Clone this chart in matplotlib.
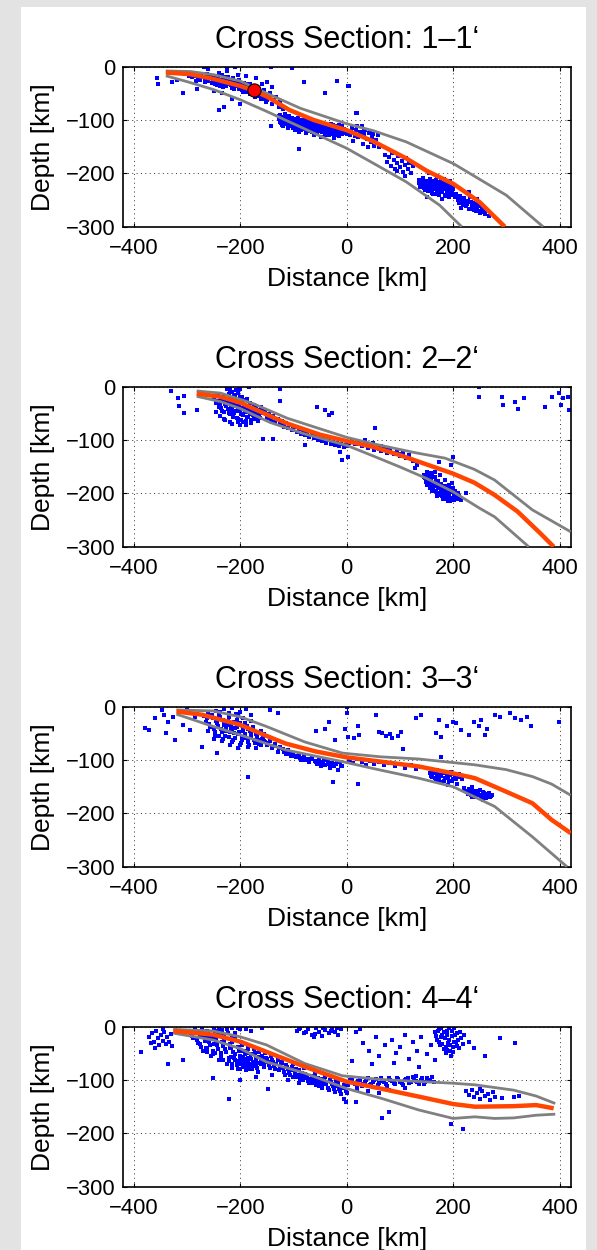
import matplotlib.pyplot as plt
import numpy as np
from matplotlib.patches import Rectangle

plt.rcParams.update({'font.family': ['Liberation Sans', 'DejaVu Sans'],
                     'axes.unicode_minus': True})

titles = ['Cross Section: 1\u20131\u2018', 'Cross Section: 2\u20132\u2018',
          'Cross Section: 3\u20133\u2018', 'Cross Section: 4\u20134\u2018']
xticks = [-400, -200, 0, 200, 400]
yticks = [-300, -200, -100, 0]

# slab surface (orange) and its upper / lower bounds (grey), [distance, depth] in km
slab1 = [(-340, -11), (-294, -14), (-250, -23), (-200, -36), (-175, -45), (-150, -56), (-108, -81),
         (-62, -100), (0, -119), (50, -140), (112, -172), (150, -195), (201, -220), (250, -254), (297, -300)]
top1 = [(-340, -8), (-294, -9), (-250, -15), (-200, -27), (-150, -50), (-87, -78), (0, -107), (50, -120),
        (112, -141), (201, -182), (300, -241), (369, -300)]
bot1 = [(-340, -17), (-300, -28), (-250, -43), (-200, -62), (-150, -84), (-100, -107), (-50, -130),
        (0, -153), (50, -181), (112, -216), (175, -260), (216, -300)]

slab2 = [(-282, -13), (-237, -19), (-200, -30), (-162, -47), (-112, -69), (-50, -90), (0, -102), (50, -113),
         (99, -128), (171, -153), (200, -163), (240, -180), (278, -203), (321, -234), (364, -275), (389, -300)]
top2 = [(-282, -8), (-237, -12), (-175, -32), (-112, -59), (-50, -79), (0, -95), (50, -107), (92, -116),
        (130, -124), (185, -134), (240, -155), (278, -175), (349, -231), (421, -272)]
bot2 = [(-282, -18), (-237, -28), (-200, -41), (-144, -67), (-81, -88), (0, -110), (50, -130), (99, -150),
        (150, -172), (200, -197), (250, -228), (278, -244), (342, -300)]

slab3 = [(-320, -9), (-272, -15), (-200, -34), (-150, -55), (-115, -69), (-58, -84), (0, -95), (64, -103),
         (135, -112), (200, -125), (241, -134), (299, -159), (349, -181), (385, -212), (421, -237)]
top3 = [(-320, -6), (-251, -8), (-200, -19), (-151, -37), (-79, -66), (-8, -87), (64, -94), (135, -98),
        (241, -109), (300, -118), (349, -131), (385, -145), (421, -166)]
bot3 = [(-320, -14), (-251, -37), (-200, -53), (-115, -81), (-8, -103), (64, -119), (135, -134),
        (200, -150), (278, -187), (349, -244), (414, -300)]

slab4 = [(-326, -8), (-251, -15), (-200, -28), (-151, -47), (-79, -75), (0, -103), (64, -116), (135, -131),
         (200, -145), (241, -150), (314, -149), (356, -147), (389, -153)]
top4 = [(-326, -5), (-251, -8), (-200, -19), (-151, -34), (-79, -69), (-8, -92), (64, -99), (200, -106),
        (241, -109), (314, -119), (356, -130), (392, -144)]
bot4 = [(-326, -12), (-251, -25), (-200, -41), (-151, -66), (-79, -87), (0, -116), (64, -134), (135, -156),
        (200, -172), (241, -169), (278, -172), (314, -171), (356, -166), (392, -164)]

# main event (red circle) in section 1
main_event = (-175, -44)

# earthquake hypocentres [distance, depth] in km
eq1 = [(-357, -22), (-355, -33), (-328, -29), (-319, -24), (-307, -50), (-284, -26), (-281, -42), (-269, -1),
       (-225, -1), (-209, -1), (-142, -1), (-103, -3), (-80, -28), (-41, -49), (-19, -26), (3, -36), (19, -86),
       (-89, -155), (-240, -81), (-230, -76), (-142, -111), (5, -36), (17, -86),
       (-298, -14), (-290, -20), (-284, -17), (-276, -24), (-270, -19), (-266, -28), (-262, -14), (-258, -22),
       (-254, -31), (-250, -18), (-247, -26), (-244, -35), (-241, -21), (-238, -29), (-235, -16), (-232, -38),
       (-229, -24), (-226, -31), (-223, -19), (-220, -27), (-217, -35), (-214, -22), (-211, -41), (-208, -29),
       (-205, -33), (-202, -25), (-199, -38), (-196, -44), (-193, -30), (-190, -36), (-187, -48), (-184, -40),
       (-181, -33), (-178, -52), (-175, -45), (-172, -57), (-168, -38), (-165, -49), (-162, -61), (-158, -53),
       (-155, -44), (-151, -66), (-148, -58), (-144, -50), (-140, -70), (-136, -62), (-132, -56), (-128, -75),
       (-125, -66), (-120, -80), (-250, -45), (-235, -50), (-215, -60), (-200, -70), (-260, -5), (-240, -12),
       (-225, -8), (-205, -15), (-190, -18), (-170, -22), (-150, -28), (-140, -38), (-160, -32),
       (-128, -92), (-126, -104), (-124, -98), (-122, -110), (-120, -95), (-118, -103), (-116, -88), (-114, -108),
       (-112, -99), (-110, -115), (-108, -93), (-106, -104), (-104, -112), (-102, -97), (-100, -107), (-98, -118),
       (-96, -101), (-94, -110), (-92, -96), (-90, -122), (-88, -105), (-86, -113), (-84, -99), (-82, -109),
       (-80, -117), (-78, -103), (-76, -124), (-74, -108), (-72, -114), (-70, -101), (-68, -119), (-66, -110),
       (-64, -106), (-62, -128), (-60, -115), (-58, -104), (-56, -121), (-54, -111), (-52, -117), (-50, -108),
       (-48, -131), (-46, -114), (-44, -120), (-42, -109), (-40, -125), (-38, -116), (-36, -112), (-34, -128),
       (-32, -119), (-30, -107), (-28, -123), (-26, -115), (-24, -133), (-22, -120), (-20, -111), (-18, -126),
       (-16, -118), (-14, -130), (-12, -114), (-10, -122), (-8, -127), (-6, -117),
       (2, -120), (6, -128), (10, -115), (14, -124), (18, -118), (22, -131), (25, -122), (28, -112), (32, -127),
       (35, -119), (38, -135), (42, -125), (45, -142), (48, -131), (52, -148), (55, -138), (58, -128), (12, -140),
       (30, -145), (40, -150), (60, -150),
       (72, -165), (76, -178), (80, -170), (84, -186), (88, -174), (90, -192), (94, -180), (97, -168), (100, -188),
       (103, -176), (106, -198), (109, -184), (112, -172), (115, -192), (118, -180), (121, -200), (124, -186),
       (86, -162), (110, -205), (95, -195),
       (135, -212), (140, -220), (143, -208), (146, -228), (149, -215), (152, -234), (154, -222), (157, -210),
       (159, -230), (161, -218), (163, -238), (165, -224), (167, -213), (169, -232), (171, -220), (173, -240),
       (175, -227), (177, -215), (179, -235), (181, -223), (183, -210), (185, -230), (187, -243), (189, -219),
       (191, -236), (193, -226), (195, -214), (197, -240), (199, -230), (201, -221), (155, -200), (170, -205),
       (150, -245), (180, -248), (203, -245),
       (205, -238), (209, -250), (213, -242), (217, -255), (220, -246), (224, -262), (228, -252), (231, -244),
       (234, -266), (237, -256), (240, -262), (243, -270), (247, -258), (250, -275), (254, -265), (258, -272),
       (262, -268), (215, -265), (230, -235), (245, -248), (268, -280)]
eq1_dense = [(-296, -18), (-288, -13), (-280, -21), (-273, -15), (-267, -23), (-260, -27), (-256, -17),
             (-252, -25), (-248, -33), (-245, -20), (-242, -28), (-239, -36), (-236, -24), (-233, -31),
             (-230, -20), (-227, -36), (-224, -27), (-221, -32), (-218, -24), (-215, -39), (-212, -31),
             (-209, -36), (-206, -27), (-203, -42), (-200, -32), (-197, -36), (-194, -47), (-191, -40),
             (-188, -33), (-185, -45), (-182, -52), (-179, -42), (-176, -50), (-173, -46), (-170, -54),
             (-166, -45), (-163, -55), (-160, -48), (-156, -60), (-153, -52), (-149, -62), (-146, -54),
             (-127, -98), (-125, -91), (-123, -106), (-121, -100), (-119, -112), (-117, -96), (-115, -102),
             (-113, -94), (-111, -106), (-109, -100), (-107, -110), (-105, -98), (-103, -104), (-101, -114),
             (-99, -102), (-97, -108), (-95, -98), (-93, -114), (-91, -104), (-89, -110), (-87, -100),
             (-85, -118), (-83, -106), (-81, -112), (-79, -100), (-77, -110), (-75, -116), (-73, -104),
             (-71, -120), (-69, -108), (-67, -114), (-65, -122), (-63, -110), (-61, -118), (-59, -108),
             (-57, -114), (-55, -124), (-53, -112), (-51, -120), (-49, -114), (-47, -122), (-45, -110),
             (-43, -116), (-41, -128), (-39, -112), (-37, -120), (-35, -116), (-33, -124), (-31, -112),
             (-29, -118), (-27, -126), (-25, -110), (-23, -118), (-21, -128), (-19, -114), (-17, -122),
             (-15, -110), (-13, -126), (-11, -118), (-9, -112), (-7, -124), (-4, -120),
             (1, -126), (8, -122), (16, -130), (20, -112), (26, -128), (33, -118), (44, -120), (50, -126),
             (136, -218), (138, -226), (142, -214), (145, -222), (148, -232), (151, -220), (153, -228),
             (156, -216), (158, -224), (160, -236), (162, -226), (164, -214), (166, -230), (168, -220),
             (170, -238), (172, -226), (174, -216), (176, -234), (178, -222), (180, -230), (182, -218),
             (184, -240), (186, -226), (188, -234), (190, -222), (192, -244), (194, -232), (196, -224),
             (198, -236), (200, -228),
             (207, -244), (211, -256), (215, -248), (219, -260), (222, -252), (226, -258), (229, -266),
             (233, -254), (236, -262), (239, -268), (242, -258), (245, -264), (249, -270), (252, -262),
             (256, -268), (260, -276)]

eq2 = [(-330, -9), (-317, -21), (-316, -36), (-306, -18), (-305, -49), (-282, -44), (-219, 0), (-200, -5),
       (-184, 0), (-126, -5), (-126, -27), (-56, -38), (-41, -44), (-34, -54), (-27, -49), (-157, -99),
       (-139, -99), (-78, -109), (-12, -122), (-9, -138), (3, -132),
       (-250, -22), (-246, -30), (-243, -14), (-240, -38), (-237, -25), (-234, -45), (-231, -18), (-228, -33),
       (-225, -28), (-222, -50), (-220, -8), (-218, -40), (-216, -22), (-214, -56), (-212, -32), (-210, -15),
       (-208, -45), (-206, -27), (-204, -60), (-202, -37), (-200, -20), (-198, -52), (-196, -31), (-194, -66),
       (-192, -42), (-190, -25), (-188, -57), (-186, -36), (-184, -48), (-182, -30), (-180, -62), (-178, -42),
       (-176, -54), (-174, -35), (-172, -47), (-170, -40), (-168, -58), (-166, -44), (-164, -52), (-162, -38),
       (-228, -62), (-238, -55), (-215, -70), (-200, -72), (-245, -48), (-225, -5), (-208, -6),
       (-158, -50), (-154, -44), (-150, -58), (-146, -52), (-142, -62), (-138, -55), (-134, -66), (-130, -60),
       (-126, -70), (-122, -64), (-118, -75), (-114, -68), (-110, -78), (-106, -72), (-102, -82), (-98, -76),
       (-94, -85), (-90, -80), (-86, -88), (-82, -83), (-78, -90), (-74, -86), (-70, -94), (-66, -89),
       (-62, -97), (-58, -92), (-54, -100), (-50, -95), (-46, -102), (-42, -98), (-38, -105), (-34, -100),
       (-30, -108), (-26, -103), (-22, -110), (-18, -105), (-14, -112), (-10, -107), (-6, -114), (-2, -110),
       (35, -100), (49, -106), (64, -112), (78, -119), (92, -125), (53, -78), (128, -153), (174, -141),
       (199, -131), (196, -147), (224, -200),
       (4, -105), (10, -100), (16, -108), (22, -103), (28, -112), (34, -106), (40, -115), (46, -109), (52, -118),
       (58, -112), (64, -121), (70, -115), (76, -124), (82, -118), (88, -127), (94, -121), (100, -130),
       (106, -125), (112, -133), (118, -128), (125, -140), (132, -146),
       (145, -165), (148, -172), (150, -160), (152, -178), (154, -168), (156, -185), (158, -174), (160, -163),
       (162, -190), (164, -180), (166, -170), (168, -195), (170, -185), (172, -176), (174, -200), (176, -190),
       (178, -182), (180, -205), (182, -195), (184, -186), (186, -210), (188, -200), (190, -192), (192, -205),
       (194, -214), (196, -198), (198, -208), (200, -190), (202, -213), (205, -202), (208, -210), (212, -205),
       (215, -212), (160, -195), (150, -185), (175, -165), (185, -175), (170, -205), (190, -215), (198, -180),
       (248, 0), (248, -20), (292, -19), (294, -34), (317, -28), (322, -42), (334, -22), (372, -39), (385, -19),
       (399, -11), (403, -34), (406, -22), (416, -20), (417, -44)]
eq2_dense = [(-244, -26), (-241, -18), (-239, -32), (-236, -40), (-233, -22), (-230, -48), (-229, -28),
             (-226, -36), (-223, -42), (-221, -24), (-219, -52), (-217, -30), (-215, -44), (-213, -26),
             (-211, -50), (-209, -36), (-207, -58), (-205, -40), (-203, -30), (-201, -46), (-199, -62),
             (-197, -40), (-195, -54), (-193, -36), (-191, -48), (-189, -64), (-187, -44), (-185, -56),
             (-183, -40), (-181, -52), (-179, -68), (-177, -48), (-175, -60), (-173, -44), (-171, -56),
             (-169, -50), (-167, -64), (-165, -48), (-163, -58), (-161, -46), (-222, -14), (-216, -10),
             (-212, -18), (-205, -12), (-196, -20), (-188, -24), (-230, -60), (-220, -66), (-205, -66),
             (-190, -72),
             (146, -170), (149, -178), (151, -166), (153, -184), (155, -172), (157, -190), (159, -180),
             (161, -170), (163, -196), (165, -186), (167, -176), (169, -200), (171, -190), (173, -182),
             (175, -204), (177, -194), (179, -186), (181, -210), (183, -200), (185, -190), (187, -206),
             (189, -196), (191, -210), (193, -200), (195, -208), (197, -192), (199, -212), (201, -202),
             (203, -196), (206, -208), (210, -200), (213, -208), (158, -162), (166, -160), (180, -195),
             (192, -185),
             (-120, -72), (-100, -80), (-80, -88), (-60, -95), (-40, -101), (-20, -107), (0, -112), (20, -107),
             (40, -110), (60, -117), (80, -122), (100, -127)]

eq3 = [(-379, -39), (-372, -44), (-361, -22), (-347, -6), (-344, -16), (-340, -50), (-336, -28), (-322, -62),
       (-326, -19), (-308, -34), (-294, -44), (-272, -75), (-244, -87), (-186, -132), (-144, -6), (-129, -12),
       (-300, -5), (-285, -20),
       (-268, -18), (-264, -28), (-260, -12), (-256, -38), (-252, -22), (-248, -48), (-244, -30), (-240, -15),
       (-236, -42), (-232, -25), (-228, -55), (-225, -35), (-222, -20), (-219, -48), (-216, -30), (-213, -62),
       (-210, -40), (-207, -25), (-204, -52), (-201, -35), (-198, -68), (-195, -45), (-192, -30), (-189, -58),
       (-186, -42), (-183, -72), (-180, -50), (-177, -38), (-174, -62), (-171, -48), (-168, -55), (-165, -70),
       (-162, -45), (-159, -60), (-156, -52), (-153, -66), (-250, -60), (-235, -65), (-220, -72), (-205, -78),
       (-245, -8), (-230, -5), (-215, -3), (-200, -10), (-190, -4), (-180, -15), (-260, -45), (-240, -55),
       (-226, -45), (-211, -50), (-196, -58), (-185, -62), (-205, -18), (-218, -40), (-230, -35),
       (-150, -72), (-145, -65), (-140, -78), (-135, -70), (-130, -84), (-125, -75), (-120, -80), (-115, -88),
       (-110, -82), (-105, -92), (-100, -86), (-95, -95), (-90, -88), (-85, -100), (-80, -93), (-75, -98),
       (-70, -104), (-65, -96), (-60, -101), (-56, -108), (-52, -100), (-48, -112), (-44, -104), (-40, -110),
       (-36, -102), (-32, -115), (-28, -106), (-24, -112), (-20, -108), (-16, -118), (-12, -104), (-8, -111),
       (-26, -141), (21, -144),
       (5, -100), (12, -106), (20, -98), (28, -104), (36, -110), (44, -102), (52, -107), (60, -103), (70, -110),
       (80, -106), (90, -112), (100, -108), (110, -114), (120, -110), (130, -116), (140, -113), (178, -94),
       (156, -125), (160, -132), (164, -120), (168, -138), (172, -128), (176, -142), (180, -124), (184, -134),
       (188, -128), (192, -140), (196, -122), (200, -135), (204, -130), (208, -144), (212, -126), (216, -136),
       (170, -118), (190, -146),
       (221, -152), (226, -160), (230, -155), (234, -166), (238, -158), (242, -170), (246, -161), (250, -156),
       (254, -168), (258, -162), (262, -172), (266, -164), (270, -170), (274, -166), (236, -150), (256, -175),
       (-58, -46), (-40, -41), (-33, -28), (-22, -62), (-4, -41), (3, -56), (14, -59), (21, -36), (24, -53),
       (1, 0), (1, -12), (56, -16), (60, -47), (67, -50), (74, -55), (81, -51), (85, -59), (96, -55), (102, -47),
       (106, -80), (131, -22), (139, -16), (167, -50), (174, -25), (178, -56), (188, -37), (199, -28), (206, -31),
       (214, -44), (229, -53), (239, -28), (249, -37), (253, -25), (260, -53), (264, -41), (278, -16), (289, -19),
       (306, -12), (317, -22), (328, -25), (338, -19), (346, -37), (399, -28)]
eq3_dense = [(-262, -22), (-258, -32), (-254, -16), (-250, -42), (-246, -26), (-242, -36), (-238, -20),
             (-234, -48), (-230, -30), (-227, -40), (-224, -26), (-221, -56), (-218, -34), (-215, -44),
             (-212, -28), (-209, -58), (-206, -38), (-203, -48), (-200, -30), (-197, -62), (-194, -40),
             (-191, -52), (-188, -36), (-185, -66), (-182, -46), (-179, -56), (-176, -44), (-173, -68),
             (-170, -52), (-167, -62), (-164, -50), (-161, -72), (-158, -56), (-155, -64), (-248, -55),
             (-232, -60), (-216, -66), (-200, -72), (-186, -76), (-170, -78), (-238, -10), (-222, -12),
             (-208, -14), (-195, -22), (-180, -26),
             (-148, -68), (-138, -74), (-128, -78), (-118, -84), (-108, -88), (-98, -92), (-88, -96),
             (-78, -100), (-68, -98), (-58, -104), (-50, -106), (-42, -100), (-34, -108), (-26, -110),
             (-18, -104), (-10, -112),
             (158, -130), (162, -124), (166, -134), (170, -126), (174, -136), (178, -130), (182, -140),
             (186, -124), (190, -134), (194, -128), (198, -140), (202, -126), (206, -136), (210, -132),
             (223, -158), (228, -164), (232, -160), (236, -170), (240, -164), (244, -158), (248, -166),
             (252, -172), (256, -160), (260, -166), (264, -170), (268, -162), (272, -168)]

eq4 = [(-372, -20), (-366, -12), (-362, -28), (-358, -8), (-355, -22), (-352, -35), (-349, -15), (-346, -26),
       (-343, -10), (-340, -32), (-337, -19), (-334, -28), (-331, -14), (-329, -37), (-360, -40), (-386, -47),
       (-336, -69), (-308, -62), (-345, -4), (-368, -31),
       (-294, -10), (-290, -18), (-286, -5), (-282, -25), (-278, -12), (-275, -32), (-272, -2), (-268, -20),
       (-265, -40), (-262, -8), (-258, -28), (-255, -15), (-252, -45), (-249, -3), (-246, -22), (-243, -35),
       (-240, -10), (-237, -50), (-234, -28), (-231, -18), (-228, -42), (-225, -5), (-222, -58), (-219, -32),
       (-216, -22), (-213, -48), (-210, -12), (-207, -64), (-204, -38), (-201, -55), (-198, -28), (-195, -70),
       (-192, -45), (-189, -60), (-186, -35), (-183, -75), (-180, -52), (-177, -66), (-174, -42), (-171, -58),
       (-168, -78), (-165, -48), (-162, -62), (-159, -55), (-156, -70), (-153, -50), (-270, -45), (-255, -55),
       (-240, -62), (-225, -70), (-215, -78), (-200, -80), (-190, -74), (-205, -68), (-185, -65), (-178, -80),
       (-195, -56), (-210, -52), (-220, -40), (-235, -6), (-215, -2), (-200, -4), (-180, -8), (-160, -2),
       (-250, -33), (-260, -18), (-245, -12), (-230, -30), (-188, -50), (-175, -72), (-166, -68), (-199, -45),
       (-182, -58), (-222, -136), (-147, -116), (-251, -97), (-200, -100), (-170, -95),
       (-150, -60), (-146, -72), (-142, -55), (-138, -66), (-134, -80), (-130, -62), (-126, -74), (-122, -68),
       (-118, -85), (-114, -72), (-110, -80), (-106, -90), (-102, -76), (-98, -86), (-94, -95), (-90, -82),
       (-86, -92), (-82, -100), (-78, -88), (-74, -96), (-70, -106), (-66, -92), (-62, -100), (-58, -110),
       (-54, -96), (-50, -104), (-46, -114), (-42, -100), (-38, -108), (-34, -118), (-30, -104), (-26, -112),
       (-22, -122), (-18, -108), (-14, -116), (-10, -126), (-6, -110), (-2, -120), (-120, -60), (-100, -70),
       (-80, -78), (-60, -88), (-40, -95), (-20, -102), (-140, -90), (-110, -100), (-90, -105), (-5, -135),
       (-2, -142), (17, -141),
       (4, -104), (10, -98), (16, -108), (22, -101), (28, -112), (34, -103), (40, -96), (46, -107), (52, -100),
       (58, -110), (64, -97), (70, -104), (76, -112), (82, -99), (88, -106), (94, -96), (100, -103), (106, -110),
       (112, -98), (118, -105), (124, -94), (130, -101), (136, -108), (142, -97), (148, -104), (154, -99),
       (160, -95), (164, -103), (20, -118), (40, -120), (60, -124), (80, -118), (110, -115), (130, -92),
       (66, -172), (80, -159), (196, -182), (219, -192),
       (-94, -8), (-88, -2), (-80, -12), (-72, -5), (-66, -15), (-58, -3), (-52, -10), (-46, -18), (-40, -6),
       (-34, -12), (-28, -2), (-22, -9), (-16, -15), (-10, -4), (17, -10), (25, -5), (-62, -20),
       (30, -30), (42, -45), (55, -20), (60, -55), (72, -35), (85, -25), (92, -50), (100, -38), (110, -15),
       (118, -60), (125, -28), (132, -45), (140, -20), (150, -52), (158, -35), (10, -65), (48, -70), (88, -68),
       (136, -75), (166, -62),
       (166, -10), (170, -25), (173, -5), (176, -35), (179, -15), (182, -42), (185, -22), (188, -8), (191, -30),
       (194, -45), (197, -18), (200, -38), (202, -3), (205, -28), (208, -12), (211, -40), (214, -22), (218, -32),
       (221, -15), (186, -50), (196, -55), (230, -28), (240, -40),
       (224, -120), (230, -128), (235, -118), (240, -132), (245, -124), (250, -136), (255, -121), (260, -130),
       (265, -126), (270, -137), (275, -122), (278, -132), (250, -116),
       (289, -22), (317, -31), (292, -134), (314, -131), (324, -130), (260, -55)]
eq4_dense = [(-292, -14), (-288, -22), (-284, -8), (-280, -30), (-276, -18), (-273, -38), (-270, -10),
             (-266, -26), (-263, -48), (-260, -14), (-257, -34), (-254, -22), (-251, -52), (-248, -8),
             (-245, -30), (-242, -42), (-239, -18), (-236, -56), (-233, -36), (-230, -24), (-227, -48),
             (-224, -12), (-221, -64), (-218, -40), (-215, -28), (-212, -58), (-209, -20), (-206, -72),
             (-203, -46), (-200, -62), (-197, -34), (-194, -76), (-191, -52), (-188, -68), (-185, -42),
             (-182, -80), (-179, -60), (-176, -74), (-173, -50), (-170, -64), (-167, -84), (-164, -56),
             (-161, -70), (-158, -62), (-155, -76), (-152, -58), (-215, -70), (-205, -80), (-195, -64),
             (-185, -58), (-175, -66), (-200, -70), (-210, -62), (-190, -82), (-180, -70), (-170, -74),
             (-262, -40), (-248, -50), (-232, -62), (-218, -56), (-240, -2), (-225, -1), (-205, -2), (-190, -4),
             (-148, -66), (-144, -78), (-140, -62), (-136, -74), (-132, -70), (-128, -82), (-124, -66),
             (-120, -78), (-116, -90), (-112, -76), (-108, -86), (-104, -82), (-100, -94), (-96, -80),
             (-92, -90), (-88, -100), (-84, -86), (-80, -96), (-76, -92), (-72, -102), (-68, -98), (-64, -106),
             (-60, -94), (-56, -104), (-52, -112), (-48, -98), (-44, -108), (-40, -104), (-36, -114),
             (-32, -100), (-28, -108), (-24, -116), (-20, -112), (-16, -106), (-12, -120), (-8, -114),
             (-4, -108), (0, -124),
             (2, -110), (7, -100), (13, -106), (19, -112), (25, -100), (31, -108), (37, -100), (43, -110),
             (49, -104), (55, -98), (61, -106), (67, -102), (73, -108), (79, -96), (85, -102), (91, -108),
             (97, -98), (103, -106), (109, -100), (115, -96), (121, -104), (127, -98), (133, -104), (139, -100),
             (145, -108), (151, -96), (157, -102),
             (168, -18), (171, -8), (174, -28), (177, -20), (180, -32), (183, -10), (186, -38), (189, -16),
             (192, -24), (195, -35), (198, -8), (201, -28), (204, -16), (207, -36), (210, -24), (213, -10),
             (188, -44), (200, -48), (178, -2), (193, -2),
             (-90, -5), (-76, -9), (-60, -14), (-44, -3), (-30, -8), (-18, -3)]

panels = [(eq1 + eq1_dense, slab1, top1, bot1), (eq2 + eq2_dense, slab2, top2, bot2),
          (eq3 + eq3_dense, slab3, top3, bot3), (eq4 + eq4_dense, slab4, top4, bot4)]

W, H = 597, 1250
fig = plt.figure(figsize=(W / 100, H / 100), dpi=100, facecolor='#e3e3e3')
# white figure area inside the grey window frame
fig.patches.append(Rectangle((21 / W, 0), 565 / W, (H - 7) / H, transform=fig.transFigure,
                             facecolor='white', edgecolor='none', zorder=-10))

for i, (eq, slab, top, bot) in enumerate(panels):
    top_px = 66.7 + 320 * i
    ax = fig.add_axes([122.7 / W, 1 - (top_px + 160) / H, 448 / W, 160 / H])

    ex, ez = zip(*eq)
    ax.plot(ex, ez, 's', color='#0000ff', ms=2.3, mew=0, zorder=2)
    for line in (top, bot):
        lx, lz = zip(*line)
        ax.plot(lx, lz, color='#808080', lw=2.0, zorder=3, solid_capstyle='butt')
    sx, sz = zip(*slab)
    ax.plot(sx, sz, color='#ff4500', lw=3.2, zorder=4, solid_capstyle='butt')
    if i == 0:
        ax.plot(*main_event, 'o', ms=9.5, mfc='#ff0000', mec='black', mew=0.8, zorder=5)

    ax.set_xlim(-421, 421)
    ax.set_ylim(-300, 0)
    ax.set_xticks(xticks)
    ax.set_yticks(yticks)
    ax.grid(True, color='#333333', lw=0.7, linestyle=(0, (1, 3.5)))
    ax.tick_params(direction='in', length=3, width=0.8, top=True, right=True,
                   labelsize=15.8, pad=5)
    ax.tick_params(axis='x', pad=8)
    for s in ax.spines.values():
        s.set_linewidth(1.2)

    ax.set_title(titles[i], fontsize=22, pad=13.5)
    ax.set_xlabel('Distance [km]', fontsize=19)
    ax.set_ylabel('Depth [km]', fontsize=19)
    ax.xaxis.set_label_coords(0.5, -0.25)
    ax.yaxis.set_label_coords(-0.151, 0.5)

fig.savefig('out.png', dpi=100, facecolor=fig.get_facecolor())
